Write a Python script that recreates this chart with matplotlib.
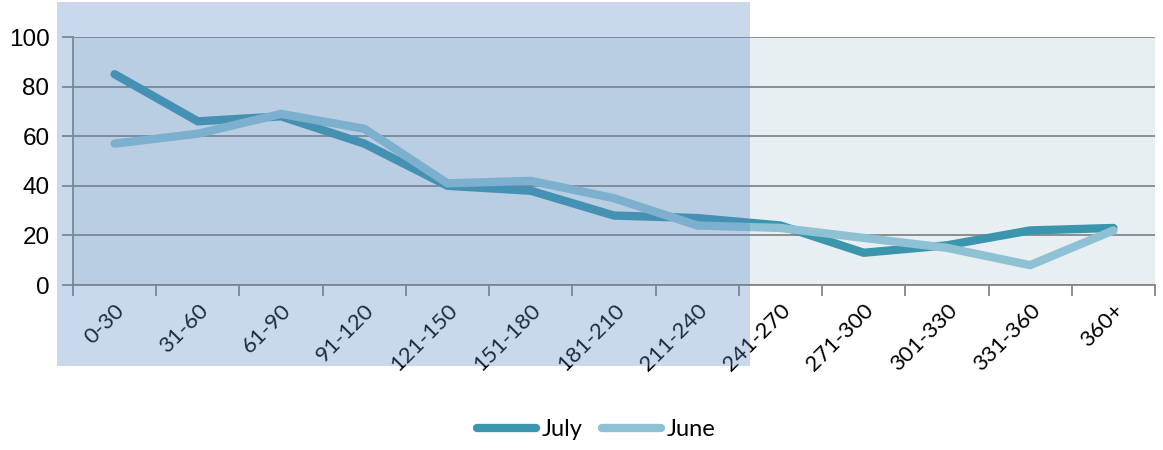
import matplotlib
matplotlib.use("Agg")
import matplotlib.pyplot as plt
from matplotlib.patches import Rectangle
import numpy as np

categories = ["0-30", "31-60", "61-90", "91-120", "121-150", "151-180", "181-210",
              "211-240", "241-270", "271-300", "301-330", "331-360", "360+"]
july = [85, 66, 68, 57, 40, 38, 28, 27, 24, 13, 16, 22, 23]
june = [57, 61, 69, 63, 41, 42, 35, 24, 23, 19, 15, 8, 22]
yticks = [0, 20, 40, 60, 80, 100]

W, H = 1163, 450
fig = plt.figure(figsize=(W / 100, H / 100), dpi=100)
ax = fig.add_axes([73 / W, 1 - 285 / H, (1155 - 73) / W, (285 - 37) / H])
ax.set_facecolor("#e8eff3")

x = np.arange(len(categories))
lj, = ax.plot(x, july, color="#3a95ad", lw=6.0, solid_capstyle="round",
              solid_joinstyle="round", label="July", zorder=3)
le, = ax.plot(x, june, color="#8fc1d4", lw=6.0, solid_capstyle="round",
              solid_joinstyle="round", label="June", zorder=3)

ax.set_xlim(-0.5, len(categories) - 0.5)
ax.set_ylim(0, 100)
ax.set_yticks(yticks)
ax.set_yticklabels([str(v) for v in yticks], fontfamily="Liberation Sans", fontsize=17.5)
ax.yaxis.grid(True, color="#868686", lw=1.3, zorder=1)
ax.set_axisbelow(True)
ax.tick_params(axis="y", length=8, width=1.3, color="#868686", pad=9)

ax.set_xticks(x)
ax.set_xticklabels(categories, rotation=45, ha="right", rotation_mode="anchor",
                   fontfamily="Lato", fontsize=16)
ax.set_xticks(np.arange(-0.5, len(categories), 1), minor=True)
ax.tick_params(axis="x", which="major", length=0, pad=11)
ax.tick_params(axis="x", which="minor", length=8, width=1.3, color="#868686")

for s in ["top", "right"]:
    ax.spines[s].set_visible(False)
for s in ["left", "bottom"]:
    ax.spines[s].set_color("#868686")
    ax.spines[s].set_linewidth(1.3)

leg = fig.legend(handles=[lj, le], loc="center", bbox_to_anchor=(596 / W, 1 - 430 / H),
                 ncol=2, frameon=False, prop={"family": "Lato", "size": 17},
                 handlelength=2.5, handletextpad=0.25, columnspacing=0.8)

rect = Rectangle((57 / W, 1 - 366 / H), (750 - 57) / W, (366 - 2) / H,
                 transform=fig.transFigure, facecolor="#5b8bc2", alpha=0.33,
                 edgecolor="none", zorder=5)
fig.add_artist(rect)

fig.savefig("out.png", dpi=100)
